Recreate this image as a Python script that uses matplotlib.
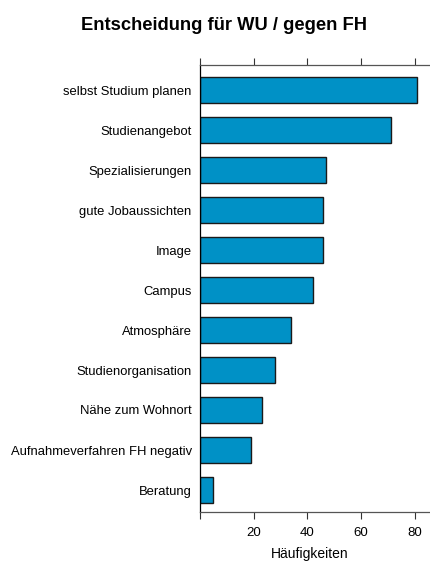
import numpy as np
import matplotlib.pyplot as plt

plt.rcParams['font.family'] = ['Liberation Sans', 'DejaVu Sans']

reasons = ["selbst Studium planen", "Studienangebot", "Spezialisierungen",
           "gute Jobaussichten", "Image", "Campus", "Atmosphäre",
           "Studienorganisation", "Nähe zum Wohnort",
           "Aufnahmeverfahren FH negativ", "Beratung"]
counts = [81, 71, 47, 46, 46, 42, 34, 28, 23, 19, 5]
ticks = [0, 20, 40, 60, 80]
tick_labels = ["", "20", "40", "60", "80"]


def main():
    fig = plt.figure(figsize=(4.30, 5.64), dpi=100)
    ax = fig.add_axes([200 / 430, 52 / 564, 230 / 430, 447 / 564])

    pos = np.arange(len(reasons))
    ax.barh(pos, counts, height=0.65, color="#0091c6",
            edgecolor="#1a1a1a", linewidth=1.0)

    ax.set_xlim(0, 85.7)
    ax.set_ylim(10.55, -0.625)
    ax.set_yticks(pos)
    ax.set_yticklabels(reasons, fontsize=9.4)
    ax.tick_params(axis="y", length=0, pad=6)

    ax.set_xticks(ticks)
    ax.set_xticklabels(tick_labels, fontsize=9.5)
    ax.tick_params(axis="x", top=True, direction="out", length=5,
                   width=0.8, color="#333333", pad=6)
    ax.spines["right"].set_visible(False)
    for s in ["top", "bottom", "left"]:
        ax.spines[s].set_linewidth(0.9)
    ax.spines["top"].set_color("#555555")
    ax.spines["bottom"].set_color("#555555")

    # x label placed by hand so it sits just above the bottom edge
    fig.text(310 / 430, 10 / 564, "Häufigkeiten", fontsize=10,
             ha="center", va="center")
    fig.suptitle("Entscheidung für WU / gegen FH", fontsize=13.2,
                 fontweight="bold", x=224 / 430, y=0.97)

    fig.savefig("out.png", dpi=100)


if __name__ == "__main__":
    main()
